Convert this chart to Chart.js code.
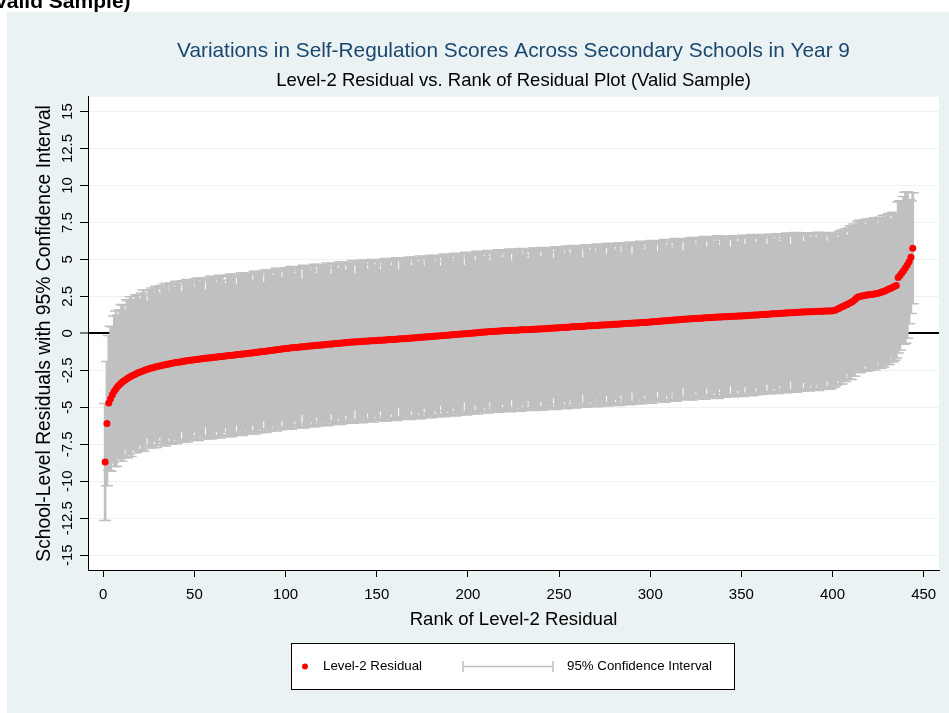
<!DOCTYPE html>
<html>
<head>
<meta charset="utf-8">
<title>Level-2 Residual vs. Rank</title>
<script src="https://cdn.jsdelivr.net/npm/chart.js@4.4.1/dist/chart.umd.min.js"></script>
<style>
    html, body { margin: 0; padding: 0; background: #fff; }
    canvas { display: block; }
</style>
</head>
<body>
<canvas id="chart" width="949" height="713"></canvas>
<script>
// School-level (level-2) residuals, sorted ascending, one per rank 1..444
const residuals = [
    -8.70, -6.10, -4.70, -4.42, -4.15, -3.92, -3.74, -3.58, -3.45, -3.34, -3.24, -3.15, -3.07, -2.99, -2.92, -2.85, -2.79, -2.73, -2.67, -2.62,
    -2.57, -2.52, -2.48, -2.44, -2.40, -2.36, -2.33, -2.29, -2.26, -2.23, -2.20, -2.17, -2.14, -2.12, -2.09, -2.07, -2.04, -2.02, -1.99, -1.97,
    -1.95, -1.93, -1.91, -1.89, -1.87, -1.85, -1.83, -1.81, -1.80, -1.78, -1.76, -1.75, -1.73, -1.72, -1.70, -1.69, -1.67, -1.66, -1.64, -1.63,
    -1.62, -1.60, -1.59, -1.57, -1.56, -1.55, -1.53, -1.52, -1.50, -1.49, -1.48, -1.46, -1.45, -1.43, -1.42, -1.40, -1.39, -1.38, -1.36, -1.35,
    -1.33, -1.32, -1.30, -1.28, -1.27, -1.25, -1.24, -1.22, -1.20, -1.19, -1.17, -1.15, -1.14, -1.12, -1.10, -1.09, -1.07, -1.05, -1.04, -1.02,
    -1.01, -1.00, -0.98, -0.97, -0.96, -0.95, -0.93, -0.92, -0.91, -0.90, -0.88, -0.87, -0.86, -0.85, -0.84, -0.82, -0.81, -0.80, -0.79, -0.78,
    -0.77, -0.75, -0.74, -0.73, -0.72, -0.71, -0.69, -0.68, -0.67, -0.66, -0.65, -0.64, -0.63, -0.61, -0.60, -0.59, -0.58, -0.58, -0.57, -0.56,
    -0.55, -0.54, -0.54, -0.53, -0.52, -0.51, -0.50, -0.50, -0.49, -0.48, -0.47, -0.46, -0.46, -0.45, -0.44, -0.43, -0.42, -0.42, -0.41, -0.40,
    -0.39, -0.38, -0.37, -0.36, -0.36, -0.35, -0.34, -0.33, -0.32, -0.31, -0.30, -0.29, -0.28, -0.27, -0.26, -0.25, -0.24, -0.23, -0.22, -0.21,
    -0.20, -0.19, -0.18, -0.17, -0.16, -0.15, -0.14, -0.13, -0.12, -0.11, -0.10, -0.09, -0.08, -0.07, -0.06, -0.05, -0.04, -0.03, -0.02, -0.01,
    0.00, 0.01, 0.02, 0.03, 0.05, 0.06, 0.07, 0.08, 0.09, 0.10, 0.11, 0.12, 0.13, 0.13, 0.14, 0.15, 0.16, 0.16, 0.17, 0.18,
    0.19, 0.19, 0.20, 0.21, 0.21, 0.22, 0.22, 0.23, 0.24, 0.24, 0.25, 0.25, 0.26, 0.27, 0.27, 0.28, 0.28, 0.29, 0.30, 0.30,
    0.31, 0.32, 0.32, 0.33, 0.34, 0.35, 0.36, 0.36, 0.37, 0.38, 0.39, 0.40, 0.40, 0.41, 0.42, 0.43, 0.44, 0.44, 0.45, 0.46,
    0.47, 0.47, 0.48, 0.49, 0.50, 0.51, 0.51, 0.52, 0.53, 0.53, 0.54, 0.55, 0.56, 0.56, 0.57, 0.58, 0.59, 0.59, 0.60, 0.61,
    0.62, 0.62, 0.63, 0.64, 0.65, 0.66, 0.66, 0.67, 0.68, 0.69, 0.70, 0.70, 0.71, 0.72, 0.73, 0.74, 0.74, 0.75, 0.76, 0.77,
    0.78, 0.79, 0.80, 0.81, 0.82, 0.83, 0.84, 0.85, 0.86, 0.87, 0.88, 0.89, 0.90, 0.91, 0.92, 0.93, 0.94, 0.95, 0.96, 0.97,
    0.98, 0.99, 0.99, 1.00, 1.01, 1.02, 1.03, 1.03, 1.04, 1.05, 1.06, 1.06, 1.07, 1.08, 1.09, 1.09, 1.10, 1.11, 1.11, 1.12,
    1.13, 1.13, 1.14, 1.14, 1.15, 1.16, 1.16, 1.17, 1.17, 1.18, 1.19, 1.20, 1.20, 1.21, 1.22, 1.23, 1.24, 1.24, 1.25, 1.26,
    1.27, 1.28, 1.28, 1.29, 1.30, 1.31, 1.32, 1.32, 1.33, 1.34, 1.35, 1.36, 1.36, 1.37, 1.38, 1.39, 1.40, 1.40, 1.41, 1.42,
    1.43, 1.43, 1.44, 1.45, 1.45, 1.46, 1.46, 1.47, 1.47, 1.48, 1.48, 1.49, 1.49, 1.50, 1.50, 1.51, 1.51, 1.52, 1.52, 1.53,
    1.55, 1.60, 1.66, 1.72, 1.78, 1.84, 1.90, 1.96, 2.02, 2.08, 2.15, 2.25, 2.38, 2.46, 2.50, 2.53, 2.55, 2.57, 2.59, 2.61,
    2.63, 2.65, 2.67, 2.69, 2.72, 2.75, 2.79, 2.84, 2.89, 2.95, 3.00, 3.06, 3.12, 3.18, 3.24, 3.78, 3.92, 4.08, 4.26, 4.44,
    4.62, 4.85, 5.15, 5.76
];

// Half-width of each school's 95% confidence interval (same order as residuals)
const ciHalfWidths = [
    3.96, 4.20, 4.55, 4.90, 4.60, 5.10, 5.25, 4.80, 5.05, 5.30, 5.15, 4.70, 5.35, 5.20, 5.40, 4.95, 5.10, 5.35, 5.25, 4.85,
    5.30, 5.45, 5.10, 4.60, 5.35, 5.25, 5.40, 5.00, 5.45, 5.30, 4.80, 5.40, 5.20, 5.50, 5.35, 4.95, 5.45, 5.30, 5.10, 5.50,
    5.40, 5.25, 4.70, 5.45, 5.35, 5.50, 5.15, 5.40, 5.30, 4.90, 5.45, 5.50, 5.20, 5.35, 5.45, 4.60, 5.40, 5.30, 5.50, 5.25,
    5.45, 5.00, 5.35, 5.50, 5.40, 5.15, 4.85, 5.45, 5.35, 5.50, 5.30, 5.45, 4.75, 5.40, 5.25, 5.50, 5.35, 5.10, 5.45, 5.40,
    5.30, 4.90, 5.50, 5.35, 5.45, 5.20, 5.40, 4.65, 5.50, 5.30, 5.45, 5.35, 5.05, 5.40, 5.50, 5.25, 5.45, 4.80, 5.35, 5.45,
    5.40, 5.20, 5.50, 5.30, 4.95, 5.45, 5.35, 5.40, 4.55, 5.50, 5.25, 5.45, 5.35, 5.10, 5.40, 5.50, 4.85, 5.30, 5.45, 5.35,
    5.40, 5.15, 5.50, 5.25, 4.70, 5.45, 5.35, 5.40, 5.05, 5.50, 5.30, 5.45, 4.90, 5.40, 5.35, 5.25, 5.50, 4.60, 5.40, 5.45,
    5.30, 5.50, 5.20, 5.40, 4.85, 5.45, 5.35, 5.50, 5.10, 5.40, 5.30, 4.75, 5.45, 5.35, 5.50, 5.25, 5.40, 5.00, 5.45, 5.35,
    5.50, 4.65, 5.40, 5.30, 5.45, 5.20, 5.35, 5.50, 4.90, 5.40, 5.45, 5.30, 5.10, 5.50, 5.35, 4.80, 5.40, 5.45, 5.25, 5.50,
    5.35, 5.05, 5.45, 5.40, 4.70, 5.30, 5.50, 5.35, 5.15, 5.45, 5.40, 4.95, 5.50, 5.30, 5.45, 5.20, 5.35, 4.60, 5.50, 5.40,
    5.45, 5.25, 5.35, 4.85, 5.50, 5.40, 5.30, 5.45, 5.10, 5.35, 5.50, 4.75, 5.40, 5.45, 5.30, 5.20, 5.50, 5.35, 4.95, 5.45,
    5.40, 5.30, 5.50, 4.65, 5.35, 5.45, 5.20, 5.40, 5.50, 5.05, 5.35, 5.45, 4.80, 5.40, 5.30, 5.50, 5.25, 5.45, 5.35, 4.90,
    5.50, 5.40, 5.30, 5.45, 5.15, 5.35, 4.70, 5.50, 5.40, 5.45, 5.25, 5.35, 5.00, 5.50, 5.40, 4.85, 5.45, 5.30, 5.50, 5.35,
    5.20, 5.45, 4.60, 5.40, 5.50, 5.35, 5.10, 5.45, 5.30, 4.95, 5.50, 5.40, 5.25, 5.45, 5.35, 4.75, 5.50, 5.40, 5.30, 5.45,
    5.05, 5.35, 5.50, 4.80, 5.40, 5.45, 5.25, 5.35, 5.50, 4.65, 5.40, 5.30, 5.45, 5.15, 5.50, 5.35, 4.90, 5.40, 5.45, 5.30,
    5.50, 5.20, 5.35, 4.70, 5.45, 5.40, 5.30, 5.50, 5.05, 5.35, 5.45, 4.85, 5.40, 5.50, 5.25, 5.35, 5.45, 4.60, 5.40, 5.30,
    5.45, 5.15, 5.50, 5.35, 4.95, 5.40, 5.45, 5.30, 5.20, 5.50, 4.75, 5.35, 5.40, 5.45, 5.10, 5.30, 5.50, 4.85, 5.40, 5.35,
    5.45, 5.25, 5.40, 4.65, 5.30, 5.45, 5.35, 5.00, 5.40, 5.30, 5.45, 4.80, 5.35, 5.40, 5.25, 5.45, 5.30, 4.90, 5.40, 5.35,
    5.20, 5.40, 5.30, 4.70, 5.35, 5.40, 5.25, 5.05, 5.35, 5.40, 4.85, 5.30, 5.35, 5.20, 5.40, 5.30, 4.60, 5.35, 5.25, 5.40,
    5.30, 5.15, 5.35, 4.75, 5.30, 5.25, 5.35, 5.00, 5.30, 5.20, 4.90, 5.35, 5.25, 5.30, 5.10, 5.20, 4.70, 5.30, 5.25, 5.15,
    5.20, 5.10, 4.80, 5.15, 5.20, 5.05, 5.15, 4.65, 5.10, 5.20, 5.05, 5.15, 4.90, 5.10, 5.15, 5.00, 5.10, 4.75, 5.15, 5.05,
    5.10, 4.95, 5.15, 5.05, 4.70, 5.10, 5.00, 5.15, 4.85, 5.05, 5.10, 4.60, 5.05, 5.00, 4.90, 5.10, 5.05, 4.80, 5.00, 5.10,
    4.95, 4.20, 3.80, 3.75
];

const yTickValues = [-15, -12.5, -10, -7.5, -5, -2.5, 0, 2.5, 5, 7.5, 10, 12.5, 15];
const yTickLabels = ['-15', '-12.5', '-10', '-7.5', '-5', '-2.5', '0', '2.5', '5', '7.5', '10', '12.5', '15'];
const xTickStep = 50;
const xRange = [-8.39, 458.4];
const yRange = [-16, 16];
const zeroLine = 0;

const FONT = "'Liberation Sans', Arial, sans-serif";
const PANEL = '#eaf2f3';
const CI_GRAY = '#c0c0c0';

const ranks = residuals.map((_, i) => i + 1);
const ciLower = residuals.map((r, i) => r - ciHalfWidths[i]);
const ciUpper = residuals.map((r, i) => r + ciHalfWidths[i]);

// Stata-like background: light panel, white plot region, cut-off heading above
const backgroundPlugin = {
    id: 'stataBackground',
    beforeDraw(chart) {
        const { ctx, width, height, chartArea } = chart;
        ctx.save();
        ctx.fillStyle = '#fff';
        ctx.fillRect(0, 0, width, height);
        ctx.fillStyle = PANEL;
        ctx.fillRect(7, 12, width - 7, height - 12);
        ctx.fillStyle = '#fff';
        ctx.fillRect(chartArea.left, chartArea.top, chartArea.right - chartArea.left, chartArea.bottom - chartArea.top);
        ctx.fillStyle = '#000';
        ctx.font = 'bold 21px ' + FONT;
        ctx.textBaseline = 'alphabetic';
        ctx.fillText('Valid Sample)', -6, 8);
        ctx.restore();
    }
};

// Vertical (rotated) y tick labels, as Stata draws them
const yLabelPlugin = {
    id: 'rotatedYLabels',
    afterDraw(chart) {
        const { ctx, scales } = chart;
        ctx.save();
        ctx.fillStyle = '#000';
        ctx.font = '15px ' + FONT;
        ctx.textAlign = 'center';
        ctx.textBaseline = 'middle';
        yTickValues.forEach((v, i) => {
            const py = scales.y.getPixelForValue(v);
            ctx.save();
            ctx.translate(68, py);
            ctx.rotate(-Math.PI / 2);
            ctx.fillText(yTickLabels[i], 0, 0);
            ctx.restore();
        });
        ctx.restore();
    }
};

// Boxed legend below the axis title
const legendPlugin = {
    id: 'stataLegend',
    afterDraw(chart) {
        const { ctx } = chart;
        const box = { x: 291.5, y: 643.5, w: 443, h: 46 };
        const cy = box.y + box.h / 2;
        ctx.save();
        ctx.fillStyle = '#fff';
        ctx.strokeStyle = '#000';
        ctx.lineWidth = 1;
        ctx.fillRect(box.x, box.y, box.w, box.h);
        ctx.strokeRect(box.x, box.y, box.w, box.h);

        ctx.fillStyle = '#ff0000';
        ctx.beginPath();
        ctx.arc(305, cy, 3, 0, Math.PI * 2);
        ctx.fill();

        ctx.strokeStyle = CI_GRAY;
        ctx.lineWidth = 1.5;
        ctx.beginPath();
        ctx.moveTo(463, cy); ctx.lineTo(553, cy);
        ctx.moveTo(463, cy - 5.5); ctx.lineTo(463, cy + 5.5);
        ctx.moveTo(553, cy - 5.5); ctx.lineTo(553, cy + 5.5);
        ctx.stroke();

        ctx.fillStyle = '#000';
        ctx.font = '13.3px ' + FONT;
        ctx.textBaseline = 'middle';
        ctx.fillText('Level-2 Residual', 323, cy);
        ctx.fillText('95% Confidence Interval', 567, cy);
        ctx.restore();
    }
};

Chart.defaults.font.family = FONT;
Chart.defaults.color = '#000';

new Chart(document.getElementById('chart'), {
    type: 'scatter',
    data: {
        datasets: [
            {
                label: 'Level-2 Residual',
                data: ranks.map((x, i) => ({ x, y: residuals[i] })),
                pointRadius: 3.5,
                pointBackgroundColor: '#ff0000',
                pointBorderWidth: 0,
                order: 0
            },
            {
                label: 'CI upper cap',
                data: ranks.map((x, i) => ({ x, y: ciUpper[i] })),
                pointStyle: 'line',
                pointRadius: 6,
                pointBorderColor: CI_GRAY,
                pointBorderWidth: 1.5,
                order: 1
            },
            {
                label: 'CI lower cap',
                data: ranks.map((x, i) => ({ x, y: ciLower[i] })),
                pointStyle: 'line',
                pointRadius: 6,
                pointBorderColor: CI_GRAY,
                pointBorderWidth: 1.5,
                order: 1
            },
            {
                type: 'bar',
                label: '95% Confidence Interval',
                data: ranks.map((x, i) => ({ x, y: [ciLower[i], ciUpper[i]] })),
                backgroundColor: CI_GRAY,
                borderWidth: 0,
                barThickness: 2,
                order: 2
            }
        ]
    },
    options: {
        responsive: false,
        animation: false,
        events: [],
        layout: { padding: { left: 0, right: 10, top: 0, bottom: 0 } },
        plugins: {
            legend: { display: false },
            tooltip: { enabled: false },
            title: {
                display: true,
                fullSize: false,
                text: 'Variations in Self-Regulation Scores Across Secondary Schools in Year 9',
                color: '#1a476f',
                font: { size: 20.8, weight: 'normal' },
                padding: { top: 39, bottom: 0 }
            },
            subtitle: {
                display: true,
                fullSize: false,
                text: 'Level-2 Residual vs. Rank of Residual Plot (Valid Sample)',
                color: '#000',
                font: { size: 18.5, weight: 'normal' },
                padding: { top: 6.3, bottom: 4.3 }
            }
        },
        scales: {
            x: {
                type: 'linear',
                min: xRange[0],
                max: xRange[1],
                offset: false,
                afterFit: (scale) => { scale.height = 143; },
                border: { color: '#000', width: 1 },
                grid: { drawOnChartArea: false, offset: false, tickLength: 7, tickColor: '#000', tickWidth: 1 },
                ticks: {
                    stepSize: xTickStep,
                    includeBounds: false,
                    autoSkip: false,
                    maxRotation: 0,
                    padding: 9,
                    color: '#000',
                    font: { size: 15 }
                },
                title: {
                    display: true,
                    text: 'Rank of Level-2 Residual',
                    color: '#000',
                    font: { size: 18.6 },
                    padding: { top: 0, bottom: 82 }
                }
            },
            y: {
                type: 'linear',
                min: yRange[0],
                max: yRange[1],
                afterFit: (scale) => { scale.width = 88; },
                border: { color: '#000', width: 1 },
                grid: {
                    color: (c) => (c.tick && c.tick.value === zeroLine ? '#000' : PANEL),
                    lineWidth: (c) => (c.tick && c.tick.value === zeroLine ? 2 : 1),
                    tickLength: 8,
                    tickColor: '#000',
                    tickWidth: 1
                },
                ticks: { stepSize: 2.5, includeBounds: false, display: false },
                title: {
                    display: true,
                    text: 'School-Level Residuals with 95% Confidence Interval',
                    color: '#000',
                    font: { size: 19.3 },
                    padding: { top: 33.5, bottom: 0 }
                }
            }
        }
    },
    plugins: [backgroundPlugin, yLabelPlugin, legendPlugin]
});
</script>
</body>
</html>
